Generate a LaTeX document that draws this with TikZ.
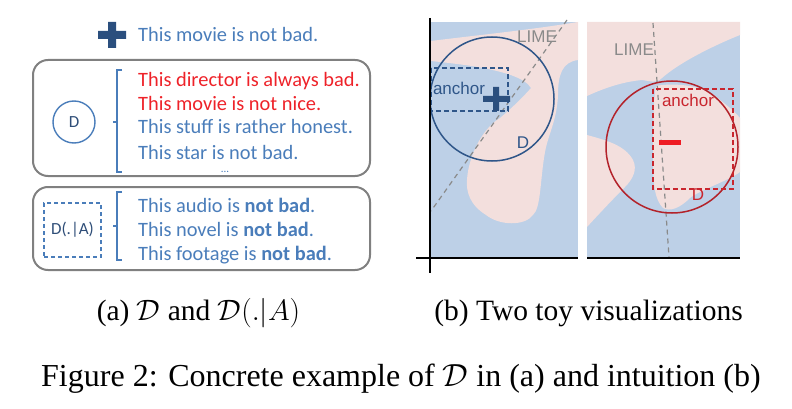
\RequirePackage{fix-cm}
\documentclass[tikz,border=0pt]{standalone}
\usepackage{fontspec}
\setmainfont{Liberation Serif}
\newfontfamily\calibri{Carlito}
\newfontfamily\arial{Liberation Sans}
\definecolor{txtblue}{HTML}{4A7DBA}
\definecolor{txtred}{HTML}{EE2229}
\definecolor{dtext}{HTML}{2F4E78}
\definecolor{plusblue}{HTML}{2B4F7E}
\definecolor{boxgray}{HTML}{808080}
\definecolor{bgblue}{HTML}{BDD0E7}
\definecolor{pinkish}{HTML}{F3DFDD}
\definecolor{nbblue}{HTML}{2F5689}
\definecolor{nbred}{HTML}{B3222A}
\definecolor{rectred}{HTML}{C9262E}
\definecolor{minusred}{HTML}{EE1C24}
\definecolor{limegray}{HTML}{8A8A8A}
\begin{document}
\begin{tikzpicture}[x=1pt, y=-1pt,
  sent/.style={anchor=base west, inner sep=0pt, text=txtblue,
    font=\calibri\fontsize{20.4}{24}\selectfont},
  badsent/.style={sent, text=txtred},
  panel/.style={draw=boxgray, line width=2pt, rounded corners=15pt},
  brace/.style={draw=txtblue, line width=1.6pt},
  lbl/.style={inner sep=0pt, font=\arial\fontsize{17}{19}\selectfont},
  lime/.style={draw=limegray, line width=1.2pt, dash pattern=on 5pt off 4pt},
  axis/.style={draw=black, line width=1.6pt},
  subcap/.style={anchor=base, inner sep=0pt, font=\fontsize{29.5}{34}\selectfont},
  captext/.style={anchor=base, inner sep=0pt, font=\fontsize{32}{36}\selectfont}
]
\useasboundingbox (0,0) rectangle (792,409);

% (a) sentences
\fill[plusblue] (98,31) rectangle (126,39) (108,22) rectangle (116,48);
\node[sent] (s0) at (138,42) {This movie is not bad.};

\draw[panel] (33,60) rectangle (370,176);
\node[circle, draw=txtblue, line width=1.4pt, minimum size=42pt, inner sep=0pt,
  text=dtext, font=\calibri\fontsize{17}{18}\selectfont] (dall) at (74,122) {D};
\draw[brace] (122,70) -- (117,70) -- (117,172) -- (122,172) (117,122) -- (113,122);
\node[badsent] (s1) at (138,87) {This director is always bad.};
\node[badsent] (s2) at (138,111) {This movie is not nice.};
\node[sent] (s3) at (138,134) {This stuff is rather honest.};
\node[sent] (s4) at (138,159) {This star is not bad.};
\node[sent, anchor=base, font=\calibri\fontsize{11}{12}\selectfont] (more) at (225,172) {...};

\draw[panel] (33,187) rectangle (370,270);
\node[draw=txtblue, line width=1.2pt, dash pattern=on 4pt off 3pt, minimum width=57pt,
  minimum height=54pt, inner sep=0pt, text=dtext,
  font=\calibri\fontsize{17}{18}\selectfont] (dcond) at (72.5,230) {D(.|A)};
\draw[brace] (122,192) -- (117,192) -- (117,260) -- (122,260) (117,226) -- (113,226);
\node[sent] (t1) at (138,212) {This audio is \textbf{not bad}.};
\node[sent] (t2) at (138,236) {This novel is \textbf{not bad}.};
\node[sent] (t3) at (138,260) {This footage is \textbf{not bad}.};

% (b) left toy
\fill[bgblue] (431,22) rectangle (578,257);
\fill[pinkish] (431,41) .. controls (470,36) and (530,30) .. (578,22) -- (578,60)
  .. controls (562,62) and (558,75) .. (558,95)
  .. controls (557,120) and (548,135) .. (545,152)
  .. controls (540,180) and (541,208) .. (533,215)
  .. controls (525,226) and (500,226) .. (486,215)
  .. controls (470,205) and (466,192) .. (467,180)
  .. controls (468,160) and (480,130) .. (500,118)
  .. controls (512,108) and (524,96) .. (531,88)
  .. controls (525,78) and (505,72) .. (478,67)
  .. controls (460,64) and (440,62) .. (431,61) -- cycle;
\coordinate (lA) at (567,20);
\coordinate (lB) at (431,211);
\draw[lime] (lA) -- (lB);
\node[lbl, text=limegray] (lime1) at (537,37) {LIME};
\draw[nbblue, line width=1.5pt] (492,99) circle [radius=62];
\draw[nbblue, line width=1.3pt, dash pattern=on 5pt off 3pt] (431,68) rectangle (508,111);
\node[lbl, text=nbblue] (anc1) at (459,88) {anchor};
\fill[plusblue] (483,96) rectangle (510,102) (493,87) rectangle (499,111);
\node[lbl, text=nbblue] (d1) at (523,143) {D};
\draw[axis] (430,18) -- (430,273);
\draw[axis] (416,258) -- (578,258);

% (b) right toy
\fill[bgblue] (587,22) rectangle (740,257);
\fill[pinkish] (587,22) -- (740,22) -- (740,35)
  .. controls (715,45) and (680,62) .. (662,78)
  .. controls (656,84) and (650,81) .. (642,80)
  .. controls (620,82) and (600,90) .. (587,96) -- cycle;
\fill[pinkish] (656,86) .. controls (670,83) and (700,84) .. (715,96)
  .. controls (728,106) and (735,112) .. (740,118) -- (740,172)
  .. controls (730,180) and (700,190) .. (690,198)
  .. controls (680,208) and (670,212) .. (663,208)
  .. controls (655,200) and (653,185) .. (653,160)
  .. controls (653,130) and (653,100) .. (656,86) -- cycle;
\fill[pinkish] (587,135) .. controls (605,140) and (625,145) .. (633,160)
  .. controls (638,170) and (632,180) .. (625,187)
  .. controls (612,200) and (598,215) .. (587,227) -- cycle;
\coordinate (rA) at (653,23);
\coordinate (rB) at (669,257);
\draw[lime] (rA) -- (rB);
\node[lbl, text=limegray] (lime2) at (634,50) {LIME};
\draw[nbred, line width=1.5pt] (672,147) circle [radius=66];
\draw[rectred, line width=1.3pt, dash pattern=on 5pt off 3pt] (653,89) rectangle (733,189);
\node[lbl, text=rectred] (anc2) at (688,100) {anchor};
\fill[minusred] (659,140) rectangle (681,145);
\node[lbl, text=rectred] (d2) at (698,195) {D};
\draw[axis] (587,258) -- (740,258);

% captions
\node[subcap] (capa) at (198.5,320) {(a) $\mathcal{D}$ and $\mathcal{D}(.|A)$};
\node[subcap] (capb) at (588.5,320) {(b) Two toy visualizations};
\node[captext] (fig) at (401,386) {Figure 2: Concrete example of $\mathcal{D}$ in (a) and intuition (b)};
\end{tikzpicture}
\end{document}
